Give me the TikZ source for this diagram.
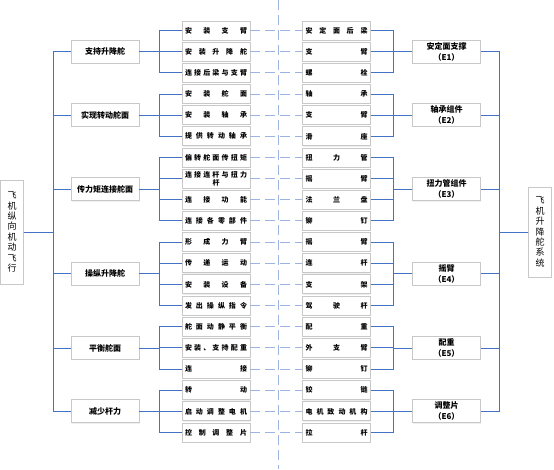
\documentclass[tikz,border=0pt]{standalone}
\usepackage{fontspec}
\setmainfont{Noto Sans CJK SC}
\usetikzlibrary{positioning,shadows}
\definecolor{linkblue}{HTML}{4472C4}
\definecolor{dashblue}{HTML}{9DB4E0}
\definecolor{boxgray}{HTML}{C8C8C8}
\newcommand{\spr}[1]{\makebox[62pt][s]{#1}}

\begin{document}
\begin{tikzpicture}[x=1pt, y=-1pt, every node/.style={font=\bfseries\fontsize{7}{8.5}\selectfont}, box/.style={draw=boxgray, fill=white, line width=0.9pt, drop shadow={shadow xshift=0.8pt, shadow yshift=-0.8pt, fill=black!12}}, rootbox/.style={box, font=\fontsize{9}{10.4}\selectfont, minimum width=23pt, inner sep=0pt, align=center}, groupbox/.style={box, minimum width=68pt, minimum height=23pt, inner sep=1pt, align=center, font=\bfseries\fontsize{8}{11}\selectfont}, item/.style={box, minimum width=68pt, minimum height=19pt, inner sep=1pt, align=center}, link/.style={draw=linkblue, line width=0.9pt}, dline/.style={draw=dashblue, line width=0.9pt, dash pattern=on 10pt off 5pt}]
\useasboundingbox (0,0) rectangle (554,469);
\coordinate (cut top) at (278,0); \coordinate (cut bot) at (278,469);
\draw[dline] (cut top) -- (cut bot);
% roots
\node[rootbox, minimum height=104pt] (plane) at (12,232) {飞\\机\\纵\\向\\机\\动\\飞\\行};
\node[rootbox, minimum height=90pt] (sys) at (540,232) {飞\\机\\升\\降\\舵\\系\\统};
% functions and components
\foreach \j/\y/\txt in {1/51.7/支持升降舵, 2/115/实现转动舵面, 3/189.2/传力矩连接舵面, 4/273.8/操纵升降舵, 5/348/平衡舵面, 6/411.4/减少杆力} {\node[groupbox] (f\j) at (105,\y) {\txt};}
\foreach \j/\y/\txt in {1/51.7/{安定面支撑\\（E1）}, 2/115/{轴承组件\\（E2）}, 3/189.2/{扭力管组件\\（E3）}, 4/273.8/{摇臂\\（E4）}, 5/348/{配重\\（E5）}, 6/411.4/{调整片\\（E6）}} {\node[groupbox] (c\j) at (446.5,\y) {\txt};}
% rows
\foreach \i/\txt in {1/{安\hfill 装\hfill 支\hfill 臂}, 2/{安\hfill 装\hfill 升\hfill 降\hfill 舵}, 3/{连\hfill 接\hfill 后\hfill 梁\hfill 与\hfill 支\hfill 臂}, 4/{安\hfill 装\hfill 舵\hfill 面}, 5/{安\hfill 装\hfill 轴\hfill 承}, 6/{提\hfill 供\hfill 转\hfill 动\hfill 轴\hfill 承}, 7/{偏\hfill 转\hfill 舵\hfill 面\hfill 传\hfill 扭\hfill 矩}, 8/{\spr{连\hfill 接\hfill 连\hfill 杆\hfill 与\hfill 扭\hfill 力}\\杆}, 9/{连\hfill 接\hfill 功\hfill 能}, 10/{连\hfill 接\hfill 各\hfill 零\hfill 部\hfill 件}, 11/{形\hfill 成\hfill 力\hfill 臂}, 12/{传\hfill 递\hfill 运\hfill 动}, 13/{安\hfill 装\hfill 设\hfill 备}, 14/{发\hfill 出\hfill 操\hfill 纵\hfill 指\hfill 令}, 15/{舵\hfill 面\hfill 动\hfill 静\hfill 平\hfill 衡}, 16/{安\hfill 装\hfill 、\hfill 支\hfill 持\hfill 配\hfill 重}, 17/{连\hfill 接}, 18/{转\hfill 动}, 19/{启\hfill 动\hfill 调\hfill 整\hfill 电\hfill 机}, 20/{控\hfill 制\hfill 调\hfill 整\hfill 片}} {\node[item] (l\i) at (216,{9.34+21.16*\i}) {\ifnum\i=8 \txt\else\spr{\txt}\fi};}
\foreach \i/\txt in {1/{安\hfill 定\hfill 面\hfill 后\hfill 梁}, 2/{支\hfill 臂}, 3/{螺\hfill 栓}, 4/{轴\hfill 承}, 5/{支\hfill 臂}, 6/{滑\hfill 座}, 7/{扭\hfill 力\hfill 管}, 8/{摇\hfill 臂}, 9/{法\hfill 兰\hfill 盘}, 10/{铆\hfill 钉}, 11/{摇\hfill 臂}, 12/{连\hfill 杆}, 13/{支\hfill 架}, 14/{驾\hfill 驶\hfill 杆}, 15/{配\hfill 重}, 16/{外\hfill 支\hfill 臂}, 17/{铆\hfill 钉}, 18/{铰\hfill 链}, 19/{电\hfill 机\hfill 致\hfill 动\hfill 机\hfill 构}, 20/{拉\hfill 杆}} {\node[item] (r\i) at (336.5,{9.34+21.16*\i}) {\spr{\txt}};}
% connectors
\foreach \j in {1,...,6} {\draw[link] (plane.east) -- ++(29,0) |- (f\j.west); \draw[link] (sys.west) -- ++(-29,0) |- (c\j.east);}
\foreach \j/\a/\b in {1/1/3, 2/4/6, 3/7/10, 4/11/14, 5/15/17, 6/18/20} {\foreach \i in {\a,...,\b} {\draw[link] (f\j.east) -- ++(20,0) |- (l\i.west); \draw[link] (c\j.west) -- ++(-19,0) |- (r\i.east);}}
\foreach \i in {1,...,20} {\draw[dline] (l\i.east) -- (r\i.west);}
\end{tikzpicture}
\end{document}
